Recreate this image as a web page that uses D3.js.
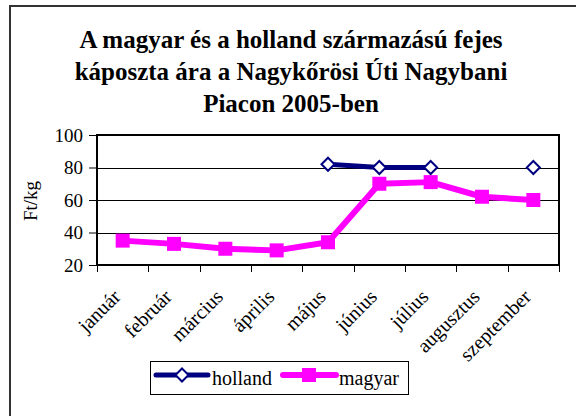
<!DOCTYPE html>
<html>
<head>
<meta charset="utf-8">
<script src="https://cdn.jsdelivr.net/npm/d3@7"></script>
<style>
  body { margin: 0; background: #fff; }
  svg { display: block; font-family: "Liberation Serif", "DejaVu Serif", serif; }
</style>
</head>
<body>
<svg width="576" height="416"></svg>
<script>
'use strict';

var months = ['január', 'február', 'március', 'április', 'május', 'június', 'július', 'augusztus', 'szeptember'];
var holland = [null, null, null, null, 82, 80, 80, null, 80];
var magyar = [35, 33, 30, 29, 34, 70, 71, 62, 60];
var yTicks = [20, 40, 60, 80, 100];
var titleLines = ['A magyar és a holland származású fejes', 'káposzta ára a Nagykőrösi Úti Nagybani', 'Piacon 2005-ben'];

var svg = d3.select('svg');

// keret
svg.append('rect')
    .attr('x', 10).attr('y', 6)
    .attr('width', 600).attr('height', 450)
    .attr('fill', '#fff')
    .attr('stroke', '#333')
    .attr('stroke-width', 2);

// cím
svg.append('g')
    .selectAll('text')
    .data(titleLines)
    .enter()
    .append('text')
    .text(function (d) { return d; })
    .attr('x', 291)
    .attr('y', function (d, i) { return 48 + i * 32; })
    .attr('text-anchor', 'middle')
    .attr('font-size', '25px')
    .attr('font-weight', 'bold');

var pLeft = 97, pRight = 559, pTop = 135, pBottom = 265;

var x = d3.scaleBand().domain(months).range([pLeft, pRight]);
var y = d3.scaleLinear().domain([20, 100]).range([pBottom, pTop]);

// rácsvonalak
svg.append('g')
    .selectAll('line')
    .data(yTicks.slice(1, -1))
    .enter()
    .append('line')
    .attr('x1', pLeft).attr('x2', pRight)
    .attr('y1', function (d) { return Math.round(y(d)) + 0.5; })
    .attr('y2', function (d) { return Math.round(y(d)) + 0.5; })
    .attr('stroke', '#000')
    .attr('stroke-width', 1);

// tengelyek
var yAxis = svg.append('g')
    .attr('transform', 'translate(' + pLeft + ',0)')
    .call(d3.axisLeft(y).tickValues(yTicks).tickSize(8).tickPadding(6));
yAxis.select('.domain').remove();
yAxis.selectAll('.tick line').attr('stroke', '#000');
yAxis.selectAll('.tick text')
    .attr('font-size', '19px')
    .attr('font-family', '"Liberation Serif", serif')
    .attr('fill', '#000');

var tickPos = months.map(function (m) { return x(m); }).concat([pRight]);
svg.append('g')
    .selectAll('line')
    .data(tickPos)
    .enter()
    .append('line')
    .attr('x1', function (d) { return Math.round(d) + 0.5; })
    .attr('x2', function (d) { return Math.round(d) + 0.5; })
    .attr('y1', pBottom).attr('y2', pBottom + 7)
    .attr('stroke', '#000');

svg.append('g')
    .selectAll('text')
    .data(months)
    .enter()
    .append('text')
    .text(function (d) { return d; })
    .attr('transform', function (d) {
        return 'translate(' + (x(d) + x.bandwidth() / 2 - 1) + ',' + (pBottom + 33) + ') rotate(-45)';
    })
    .attr('text-anchor', 'end')
    .attr('font-size', '20px');

// plot keret
svg.append('rect')
    .attr('x', pLeft).attr('y', pTop)
    .attr('width', pRight - pLeft).attr('height', pBottom - pTop)
    .attr('fill', 'none')
    .attr('stroke', '#000')
    .attr('stroke-width', 2);

// y felirat
svg.append('text')
    .text('Ft/kg')
    .attr('transform', 'translate(37,201) rotate(-90)')
    .attr('text-anchor', 'middle')
    .attr('font-size', '19px');

var cx = function (d, i) { return x(months[i]) + x.bandwidth() / 2; };

var line = d3.line()
    .defined(function (d) { return d != null; })
    .x(cx)
    .y(function (d) { return y(d); });

svg.append('path')
    .datum(magyar)
    .attr('d', line)
    .attr('fill', 'none')
    .attr('stroke', '#ff00ff')
    .attr('stroke-width', 6)
    .attr('stroke-linejoin', 'round');

svg.append('g')
    .selectAll('rect')
    .data(magyar)
    .enter()
    .append('rect')
    .attr('x', function (d, i) { return cx(d, i) - 7; })
    .attr('y', function (d) { return y(d) - 7; })
    .attr('width', 14).attr('height', 14)
    .attr('fill', '#ff00ff');

svg.append('path')
    .datum(holland)
    .attr('d', line)
    .attr('fill', 'none')
    .attr('stroke', '#000080')
    .attr('stroke-width', 5);

var diamond = 'M0,-6.5L6.5,0L0,6.5L-6.5,0Z';
svg.append('g')
    .selectAll('path')
    .data(holland.map(function (d, i) { return { v: d, i: i }; }).filter(function (d) { return d.v != null; }))
    .enter()
    .append('path')
    .attr('d', diamond)
    .attr('transform', function (d) { return 'translate(' + cx(d.v, d.i) + ',' + y(d.v) + ')'; })
    .attr('fill', '#fff')
    .attr('stroke', '#000080')
    .attr('stroke-width', 2);

// jelmagyarázat
var leg = svg.append('g');
leg.append('rect')
    .attr('x', 150.5).attr('y', 361.5)
    .attr('width', 258).attr('height', 33)
    .attr('fill', '#fff')
    .attr('stroke', '#000')
    .attr('stroke-width', 1);
leg.append('line')
    .attr('x1', 156).attr('x2', 208).attr('y1', 375).attr('y2', 375)
    .attr('stroke', '#000080').attr('stroke-width', 5).attr('stroke-linecap', 'round');
leg.append('path')
    .attr('d', diamond)
    .attr('transform', 'translate(182,375)')
    .attr('fill', '#fff').attr('stroke', '#000080').attr('stroke-width', 2);
leg.append('text').text('holland')
    .attr('x', 212).attr('y', 385).attr('font-size', '20px');
leg.append('line')
    .attr('x1', 283).attr('x2', 336).attr('y1', 375).attr('y2', 375)
    .attr('stroke', '#ff00ff').attr('stroke-width', 6).attr('stroke-linecap', 'round');
leg.append('rect')
    .attr('x', 302).attr('y', 368).attr('width', 14).attr('height', 14)
    .attr('fill', '#ff00ff');
leg.append('text').text('magyar')
    .attr('x', 339).attr('y', 385).attr('font-size', '20px');
</script>
</body>
</html>
